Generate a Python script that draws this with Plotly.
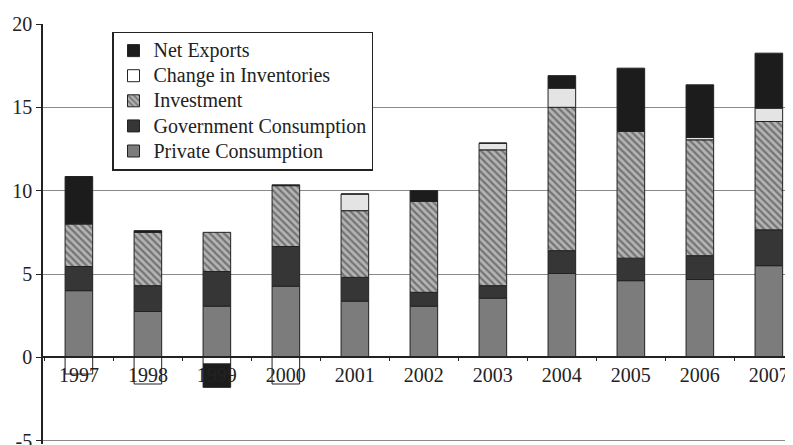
import plotly.graph_objects as go

years = ["1997", "1998", "1999", "2000", "2001", "2002", "2003", "2004", "2005", "2006", "2007"]
private_consumption = [4.0, 2.75, 3.07, 4.27, 3.37, 3.07, 3.55, 5.03, 4.6, 4.67, 5.5]
government_consumption = [1.45, 1.55, 2.08, 2.38, 1.43, 0.83, 0.75, 1.37, 1.35, 1.43, 2.15]
investment = [2.55, 3.2, 2.35, 3.65, 4.0, 5.45, 8.15, 8.6, 7.6, 6.95, 6.5]
change_in_inventories = [-1.0, -1.6, -0.4, -1.6, 1.0, 0.0, 0.4, 1.15, 0.0, 0.15, 0.8]
net_exports = [2.85, 0.1, -1.4, 0.05, 0.0, 0.65, 0.0, 0.75, 3.8, 3.15, 3.3]

series_names = ["Private Consumption", "Government Consumption", "Investment",
                "Change in Inventories", "Net Exports"]
y_ticks = [-5, 0, 5, 10, 15, 20]

font_family = "Liberation Serif"
line = dict(color="#222222", width=1)


def legend_name(s):
    return '<span style="font-size:20px">' + s + '</span>'


fig = go.Figure()
fig.add_trace(go.Bar(x=years, y=private_consumption, name=legend_name(series_names[0]),
                     marker=dict(color="#7c7c7c", line=line)))
fig.add_trace(go.Bar(x=years, y=government_consumption, name=legend_name(series_names[1]),
                     marker=dict(color="#363636", line=line)))
fig.add_trace(go.Bar(x=years, y=investment, name=legend_name(series_names[2]),
                     marker=dict(color="#a8a8a8", line=line,
                                 pattern=dict(shape="\\", fgcolor="#333333",
                                              bgcolor="#b4b4b4", size=5, solidity=0.45))))
fig.add_trace(go.Bar(x=years, y=change_in_inventories, name=legend_name(series_names[3]),
                     marker=dict(color=["#e4e4e4" if v > 0 else "#ffffff" for v in change_in_inventories],
                                 line=line)))
fig.add_trace(go.Bar(x=years, y=net_exports, name=legend_name(series_names[4]),
                     marker=dict(color="#1c1c1c", line=line)))

y_min, y_max = -5.2, 20

fig.update_layout(
    width=785, height=460,
    barmode="relative",
    bargap=0.6,
    plot_bgcolor="white",
    paper_bgcolor="white",
    margin=dict(l=35, r=0, t=16, b=24),
    font=dict(family=font_family, size=20, color="#222222"),
    showlegend=True,
    legend=dict(
        x=0.092, y=0.982, xanchor="left", yanchor="top",
        traceorder="reversed",
        bgcolor="white", bordercolor="#222222", borderwidth=1.5,
        font=dict(family=font_family, size=17, color="#222222"),
        itemwidth=30, tracegroupgap=0,
    ),
    xaxis=dict(
        type="category",
        range=[-0.52, 10.35],
        anchor="free", position=(0 - y_min) / (y_max - y_min),
        showline=True, linecolor="#222222", linewidth=1.5,
        ticks="outside", ticklen=3, tickcolor="#222222",
        tickson="boundaries",
        showgrid=False,
        tickfont=dict(family=font_family, size=20, color="#222222"),
    ),
    yaxis=dict(
        range=[y_min, y_max],
        tickvals=y_ticks,
        ticktext=[str(v) for v in y_ticks],
        showline=True, linecolor="#222222", linewidth=1.5,
        ticks="outside", ticklen=5, tickcolor="#222222",
        showgrid=True, gridcolor="#8a8a8a", gridwidth=1.2,
        zeroline=True, zerolinecolor="#222222", zerolinewidth=1.5,
        tickfont=dict(family=font_family, size=20, color="#222222"),
    ),
)

fig.write_html("out.html")
